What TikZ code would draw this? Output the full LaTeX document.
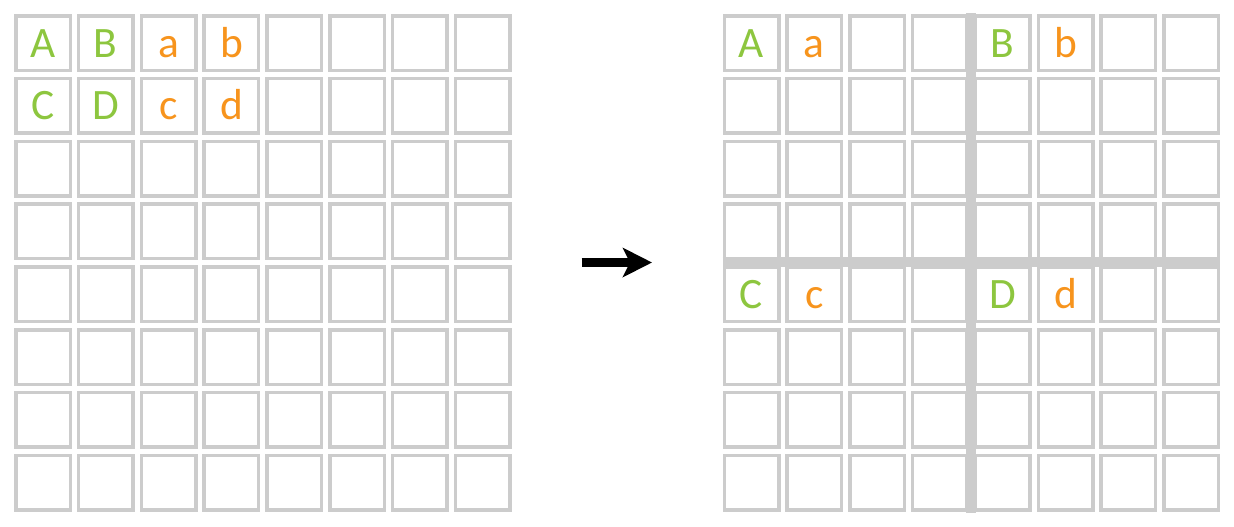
\documentclass[tikz,border=0pt]{standalone}
\usepackage{fontspec}
\setmainfont{Carlito}
\usetikzlibrary{arrows.meta}
\definecolor{gridgray}{HTML}{CCCCCC}
\definecolor{lblgreen}{HTML}{8DC63F}
\definecolor{lblorange}{HTML}{F7941D}
\tikzset{
  cellbox/.style={draw=gridgray, line width=1.75pt, inner sep=0pt, minimum size=27.25pt},
  lbl/.style={inner sep=0pt, text height=14pt, text depth=0pt, font=\fontsize{21.7}{26}\selectfont},
  upper/.style={lbl, text=lblgreen},
  lower/.style={lbl, text=lblorange},
  splitbar/.style={gridgray, line width=5pt}
}
\begin{document}
\begin{tikzpicture}[x=0.5pt, y=-0.5pt]
		\useasboundingbox (0,0) rectangle (1234,526);
		% left grid
		\foreach \c in {0,...,7}
		{\foreach \r in {0,...,7}
		{\node[cellbox] (L\c\r) at ({43+62.8*\c}, {43+62.8*\r}) {};}}
		% right grid
		\foreach \c in {0,...,7}
		{\foreach \r in {0,...,7}
		{\node[cellbox] (R\c\r) at ({751.5+62.8*\c}, {43+62.8*\r}) {};}}
		% split lines
		\coordinate (vtop) at (971.3, 13);
		\coordinate (vbot) at (971.3, 512.5);
		\coordinate (hleft) at (722.5, 262.3);
		\coordinate (hright) at (1220.1, 262.3);
		\draw[splitbar] (vtop) -- (vbot);
		\draw[splitbar] (hleft) -- (hright);
		% labels
		\foreach \cell/\sty/\name in {
			L00/upper/A,
			L10/upper/B,
			L20/lower/a,
			L30/lower/b,
			L01/upper/C,
			L11/upper/D,
			L21/lower/c,
			L31/lower/d,
			R00/upper/A,
			R10/lower/a,
			R40/upper/B,
			R50/lower/b,
			R04/upper/C,
			R14/lower/c,
			R44/upper/D,
			R54/lower/d
		}{
			\node[\sty] (t\cell) at (\cell) {\name};
		}
		% arrow
		\coordinate (arrowL) at (581.7, 262.5);
		\coordinate (arrowR) at (652, 262.5);
		\draw[-{Stealth[length=14.5pt, width=14.5pt, inset=3.5pt]}, line width=4.5pt] (arrowL) -- (arrowR);
	\end{tikzpicture}
\end{document}
